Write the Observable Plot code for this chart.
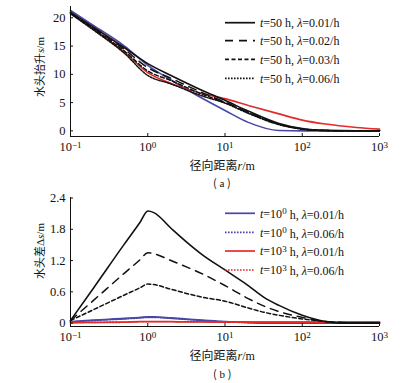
<!DOCTYPE html>
<html><head><meta charset="utf-8">
<script src="https://cdn.jsdelivr.net/npm/d3@7"></script>
<script src="https://cdn.jsdelivr.net/npm/@observablehq/plot@0.6"></script>
<style>
body{margin:0;background:#fff;}
#wrap{position:relative;width:412px;height:383px;overflow:hidden;font-family:"Liberation Serif",serif;color:#111;}
#wrap svg{position:absolute;left:0;}
.abs{position:absolute;white-space:nowrap;line-height:1;}
.cjk{font-family:"Noto Sans CJK SC",sans-serif;}
</style></head><body><div id="wrap"></div>
<script>
// ---------- data: panel (a) head rise s (m) vs radial distance r (m)
const rA = [0.1, 0.2, 0.5, 1, 2, 5, 10, 20, 50, 100, 200, 500, 1000];
const sL001 = [21.0, 18.3, 14.7, 11.9, 9.8, 7.2, 5.4, 3.5, 1.3, 0.40, 0.08, 0, 0];
const sL002 = [20.9, 18.2, 14.4, 11.2, 9.3, 6.8, 5.1, 3.3, 1.2, 0.35, 0.06, 0, 0];
const sL003 = [20.8, 18.0, 14.1, 10.6, 8.9, 6.5, 5.0, 3.2, 1.15, 0.33, 0.05, 0, 0];
const sL006 = [20.7, 17.8, 13.7, 9.8, 8.3, 6.2, 4.9, 3.1, 1.1, 0.30, 0.05, 0, 0];
const sBlue = [21.3, 18.6, 15.0, 11.6, 9.0, 5.8, 3.6, 1.5, 0.06, 0, 0, 0, 0];
const sRed  = [20.8, 18.0, 13.9, 10.3, 8.4, 6.6, 5.7, 4.5, 3.0, 1.9, 1.2, 0.6, 0.3];

// ---------- data: panel (b) head difference Δs (m) vs r (m)
const rB = [0.1, 0.2, 0.5, 0.8, 1, 1.2, 2, 3.16, 5, 10, 20, 31.6, 50, 100, 200, 316, 1000];
const dsSolid = [0.05, 0.68, 1.52, 1.94, 2.15, 2.12, 1.82, 1.56, 1.32, 1.02, 0.72, 0.50, 0.34, 0.15, 0.03, 0.0, 0.0];
const dsDash  = [0.05, 0.44, 0.96, 1.22, 1.35, 1.33, 1.20, 1.08, 0.95, 0.72, 0.47, 0.33, 0.22, 0.11, 0.03, 0.01, 0];
const dsShort = [0.05, 0.26, 0.54, 0.68, 0.75, 0.74, 0.65, 0.57, 0.50, 0.42, 0.29, 0.21, 0.15, 0.08, 0.03, 0.01, 0];
const dsT1L001 = [0.03, 0.06, 0.09, 0.11, 0.12, 0.12, 0.10, 0.08, 0.06, 0.03, 0.01, 0, 0, 0, 0, 0, 0];
const dsT1L006 = [0.02, 0.05, 0.08, 0.10, 0.11, 0.11, 0.09, 0.07, 0.05, 0.025, 0.01, 0, 0, 0, 0, 0, 0];
const dsT1000L001 = [0.01, 0.015, 0.02, 0.03, 0.03, 0.03, 0.03, 0.025, 0.025, 0.02, 0.02, 0.02, 0.02, 0.02, 0.02, 0.02, 0.02];
const dsT1000L006 = [0.008, 0.012, 0.016, 0.025, 0.025, 0.025, 0.025, 0.02, 0.02, 0.018, 0.018, 0.018, 0.018, 0.018, 0.018, 0.018, 0.018];

// ticks
const xTicks = [0.1, 1, 10, 100, 1000];
const xTickExp = ["\u22121", "0", "1", "2", "3"];
const yTicksA = [0, 5, 10, 15, 20];
const yTicksB = [0, 0.6, 1.2, 1.8, 2.4];

// legends
const legendA = [["50", "0.01"], ["50", "0.02"], ["50", "0.03"], ["50", "0.06"]];
const legendB = [["0", "0.01"], ["0", "0.06"], ["3", "0.01"], ["3", "0.06"]];

const BLACK = "#111", BLUE = "#4a46a6", RED = "#e52a2a";
const DASH = {solid: null, long: "8,6", short: "4,2.5", dot: "1.6,1.4"};

const toRows = (r, s) => r.map((x, i) => ({r: x, s: s[i]}));
const W = 412, ML = 70, MR = 33;
const PW = W - ML - MR;

function panel({series, yDomain, yTicks, yFmt, mt, ph, mb}) {
  const H = mt + ph + mb;
  const marks = [];
  for (const d of series) {
    marks.push(Plot.line(toRows(d.r, d.s), {x: "r", y: "s", stroke: d.color, strokeWidth: d.w || 1.6,
      strokeDasharray: d.dash, curve: "monotone-x"}));
  }
  marks.push(Plot.ruleX([0.1], {stroke: BLACK, strokeWidth: 1}));
  marks.push(Plot.ruleY([yDomain[0]], {stroke: BLACK, strokeWidth: 1}));
  marks.push(Plot.tickX(xTicks, {x: d => d, insetTop: ph - 3, stroke: BLACK, strokeWidth: 1}));
  marks.push(Plot.tickY(yTicks, {y: d => d, insetRight: PW - 3, stroke: BLACK, strokeWidth: 1}));
  marks.push(Plot.axisX(xTicks, {tickSize: 0, tickPadding: 6, label: null, fontSize: 12.5,
    tickFormat: d => "10^" + xTickExp[xTicks.indexOf(d)]}));
  marks.push(Plot.axisY(yTicks, {tickSize: 0, tickPadding: 5, label: null, fontSize: 12.5, tickFormat: yFmt}));
  const svg = Plot.plot({
    width: W, height: H, marginLeft: ML, marginRight: MR, marginTop: mt, marginBottom: mb,
    style: {fontFamily: "Liberation Serif, serif", fontSize: "12.5px", color: BLACK, background: "transparent"},
    x: {type: "log", domain: [0.1, 1000]},
    y: {domain: yDomain},
    marks
  });
  // superscripts on x tick labels
  d3.select(svg).selectAll('[aria-label="x-axis tick label"] text').each(function () {
    const t = d3.select(this);
    const parts = t.text().split("^");
    t.text(null);
    t.append("tspan").text(parts[0]);
    t.append("tspan").attr("dy", "-0.4em").attr("font-size", "9px").text(parts[1]);
  });
  return svg;
}

const wrap = document.getElementById("wrap");

const svgA = panel({
  series: [
    {r: rA, s: sBlue, color: BLUE},
    {r: rA, s: sRed, color: RED},
    {r: rA, s: sL006, color: BLACK, dash: DASH.dot, w: 1.5},
    {r: rA, s: sL003, color: BLACK, dash: DASH.short, w: 1.5},
    {r: rA, s: sL002, color: BLACK, dash: DASH.long, w: 1.5},
    {r: rA, s: sL001, color: BLACK, w: 1.6}
  ],
  yDomain: [-1, 22], yTicks: yTicksA, yFmt: d => String(d), mt: 6, ph: 130, mb: 30
});
svgA.style.top = "0px";
wrap.appendChild(svgA);

const svgB = panel({
  series: [
    {r: rB, s: dsT1L006, color: BLUE, dash: DASH.dot},
    {r: rB, s: dsT1L001, color: BLUE},
    {r: rB, s: dsT1000L006, color: RED, dash: DASH.dot},
    {r: rB, s: dsT1000L001, color: RED},
    {r: rB, s: dsShort, color: BLACK, dash: DASH.short, w: 1.5},
    {r: rB, s: dsDash, color: BLACK, dash: DASH.long, w: 1.5},
    {r: rB, s: dsSolid, color: BLACK, w: 1.6}
  ],
  yDomain: [-0.065, 2.41], yTicks: yTicksB, yFmt: d => d === 0 ? "0" : d.toFixed(1), mt: 7, ph: 129, mb: 30
});
svgB.style.top = "190px";
wrap.appendChild(svgB);

// ---------- legends (overlay)
const leg = d3.select(wrap).append("svg").attr("width", W).attr("height", 383)
  .style("top", "0px").style("pointer-events", "none")
  .attr("font-family", "Liberation Serif, serif").attr("font-size", "12px");
const legRowsA = legendA.map((d, i) => ({y: [22.7, 40.7, 59.3, 78.3][i], color: BLACK,
  dash: [DASH.solid, DASH.long, DASH.short, DASH.dot][i], t: d[0], l: d[1], sup: false}));
const legRowsB = legendB.map((d, i) => ({y: [213.3, 232.3, 251, 270][i], color: [BLUE, BLUE, RED, RED][i],
  dash: [DASH.solid, DASH.dot, DASH.solid, DASH.dot][i], t: d[0], l: d[1], sup: true}));
for (const row of legRowsA.concat(legRowsB)) {
  leg.append("line").attr("x1", 225).attr("x2", 255).attr("y1", row.y).attr("y2", row.y)
    .attr("stroke", row.color).attr("stroke-width", 1.7).attr("stroke-dasharray", row.dash);
  const tx = leg.append("text").attr("x", 260).attr("y", row.y).attr("dy", "0.35em").attr("fill", BLACK);
  tx.append("tspan").attr("font-style", "italic").text("t");
  if (row.sup) {
    tx.append("tspan").text("=10");
    tx.append("tspan").attr("dy", "-0.4em").attr("font-size", "9px").text(row.t);
    tx.append("tspan").attr("dy", "0.4em").text(" h, ");
  } else {
    tx.append("tspan").text("=" + row.t + " h, ");
  }
  tx.append("tspan").attr("font-style", "italic").text("\u03bb");
  tx.append("tspan").text("=" + row.l + "/h");
}

// ---------- titles
function addDiv(html, x, y, size, rotate) {
  const el = document.createElement("div");
  el.className = "abs";
  el.innerHTML = html;
  el.style.fontSize = size + "px";
  wrap.appendChild(el);
  const w = el.offsetWidth, h = el.offsetHeight;
  el.style.left = (x - w / 2) + "px";
  el.style.top = (y - h / 2) + "px";
  if (rotate) el.style.transform = "rotate(-90deg)";
}
const xTitle = '<span class="cjk">径向距离</span><i>r</i>/m';
addDiv(xTitle, 222, 165, 12);
addDiv(xTitle, 222, 355, 12);
addDiv('<span class="cjk">(</span> a <span class="cjk">)</span>', 222, 183, 11);
addDiv('<span class="cjk">(</span> b <span class="cjk">)</span>', 222, 374, 11);
addDiv('<span class="cjk">水头抬升</span><i>s</i>/m', 40, 67, 11, true);
addDiv('<span class="cjk">水头差</span>\u0394<i>s</i>/m', 40, 251, 11, true);
</script></body></html>
